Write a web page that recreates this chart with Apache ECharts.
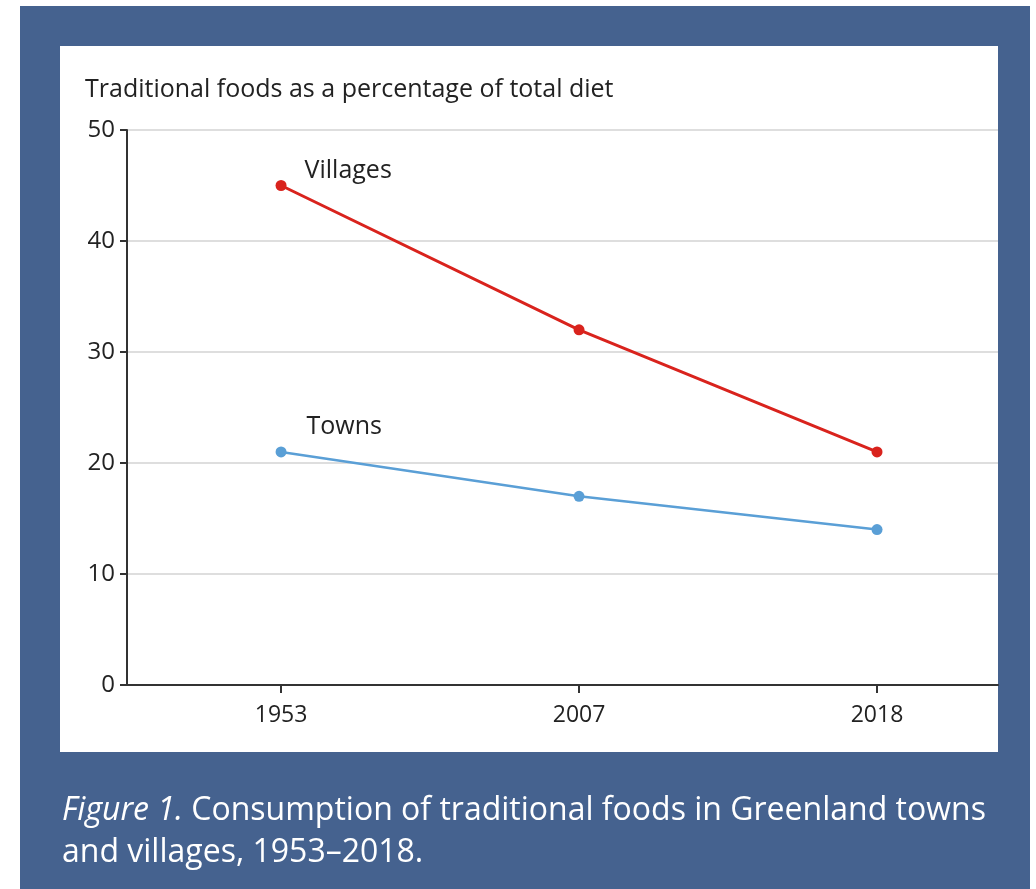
<!DOCTYPE html>
<html>
<head>
<meta charset="utf-8">
<script src="https://cdn.jsdelivr.net/npm/echarts@6/dist/echarts.min.js"></script>
<style>
  html, body { margin: 0; padding: 0; background: #ffffff; }
  #chart { width: 1036px; height: 889px; }
</style>
</head>
<body>
<div id="chart"></div>
<script>
// Survey years and the share of traditional foods in the diet (%)
const years = ['1953', '2007', '2018'];
const villages = [45, 32, 21];
const towns = [21, 17, 14];
const yTicks = [0, 10, 20, 30, 40, 50];

const FONT = '"Open Sans", "Noto Sans", sans-serif';
const BLUE_FRAME = '#45628f';
const INK = '#222222';

// the x axis is positioned by year index so the years sit off-centre like a print layout
const idx = years.map((_, i) => i);
const pairs = vals => vals.map((v, i) => [idx[i], v]);

function withFirstLabel(vals, name, pos) {
  return pairs(vals).map((p, i) => i === 0 ? {
    value: p,
    label: {
      show: true, formatter: name, position: pos,
      align: 'left', verticalAlign: 'middle',
      fontFamily: FONT, fontSize: 25, color: INK
    }
  } : { value: p });
}

const chart = echarts.init(document.getElementById('chart'), null, { renderer: 'canvas' });

chart.setOption({
  animation: false,
  backgroundColor: '#ffffff',
  graphic: {
    elements: [
      { type: 'rect', z: -20, silent: true, shape: { x: 20, y: 6, width: 1010, height: 883 }, style: { fill: BLUE_FRAME } },
      { type: 'rect', z: -19, silent: true, shape: { x: 60, y: 46, width: 938, height: 706 }, style: { fill: '#ffffff' } },
      {
        type: 'text', z: 10, left: 62, top: 790,
        style: {
          text: '{i|Figure 1.} Consumption of traditional foods in Greenland towns\nand villages, 1953\u20132018.',
          fill: '#ffffff', fontFamily: FONT, fontSize: 32, lineHeight: 42,
          rich: { i: { fontStyle: 'italic', fill: '#ffffff', fontFamily: FONT, fontSize: 32 } }
        }
      }
    ]
  },
  title: {
    text: 'Traditional foods as a percentage of total diet',
    left: 80, top: 72,
    textStyle: { fontFamily: FONT, fontSize: 25, fontWeight: 'normal', color: INK }
  },
  grid: { left: 127, right: 38, top: 130, bottom: 204 },
  xAxis: {
    type: 'value',
    min: -0.517, max: 2.406,
    splitLine: { show: false },
    axisLine: { show: true, onZero: false, lineStyle: { color: '#333', width: 2 } },
    axisTick: { show: true, length: 8, lineStyle: { color: '#333', width: 2 }, customValues: idx },
    axisLabel: {
      customValues: idx, margin: 19,
      formatter: v => years[Math.round(v)],
      fontFamily: FONT, fontSize: 23, color: INK
    }
  },
  yAxis: {
    type: 'value', min: 0, max: 50, interval: 10,
    axisLine: { show: true, onZero: false, lineStyle: { color: '#333', width: 2 } },
    axisTick: { show: true, length: 7, lineStyle: { color: '#333', width: 2 } },
    axisLabel: {
      margin: 12, fontFamily: FONT, fontSize: 24, color: INK,
      formatter: v => yTicks.includes(v) ? String(v) : ''
    },
    splitLine: { show: true, lineStyle: { color: '#dedede', width: 2 } }
  },
  series: [
    {
      name: 'Villages', type: 'line',
      data: withFirstLabel(villages, 'Villages', [29, -9]),
      symbol: 'circle', symbolSize: 11,
      lineStyle: { color: '#d9231d', width: 3 },
      itemStyle: { color: '#d9231d' }
    },
    {
      name: 'Towns', type: 'line',
      data: withFirstLabel(towns, 'Towns', [31, -20]),
      symbol: 'circle', symbolSize: 11,
      lineStyle: { color: '#5a9fd6', width: 2.5 },
      itemStyle: { color: '#5a9fd6' }
    }
  ]
});
</script>
</body>
</html>
